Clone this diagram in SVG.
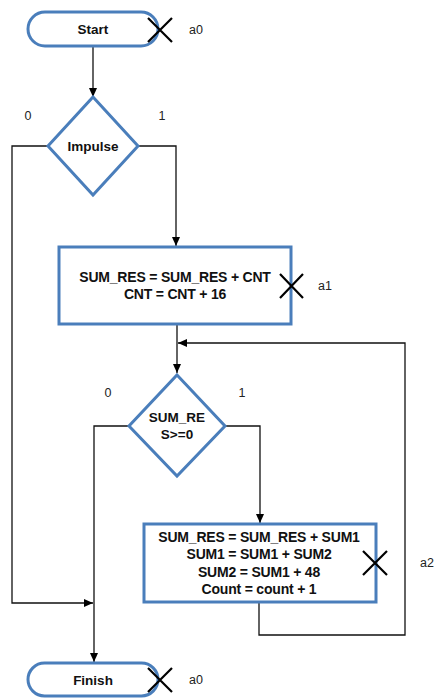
<svg xmlns="http://www.w3.org/2000/svg" width="436" height="698" viewBox="0 0 436 698">
<style>
.shape{fill:#fff;stroke:#4a7ebb;stroke-width:3}
.t{font-family:"Liberation Sans",Arial,sans-serif;font-size:13.5px;font-weight:bold;fill:#111;text-anchor:middle;dominant-baseline:central}
.b{font-size:14px;letter-spacing:-0.2px}
.l{font-family:"Liberation Sans",Arial,sans-serif;font-size:12.5px;fill:#222;text-anchor:middle;dominant-baseline:central}
.c{fill:none;stroke:#111;stroke-width:1.3}
.x{stroke:#000;stroke-width:2.2;fill:none}
</style>
<defs>
<marker id="ah" markerWidth="10" markerHeight="10" refX="9" refY="5" orient="auto" markerUnits="userSpaceOnUse">
<path d="M0,1 L9,5 L0,9 Z" fill="#000"/>
</marker>
</defs>
<g id="connectors">
<path class="c" d="M93,46 V97" marker-end="url(#ah)"/>
<path class="c" d="M138,146 H176 V246" marker-end="url(#ah)"/>
<path class="c" d="M48,146 H12 V603 H93" marker-end="url(#ah)"/>
<path class="c" d="M177,324 V373" marker-end="url(#ah)"/>
<path class="c" d="M225,426 H260 V523" marker-end="url(#ah)"/>
<path class="c" d="M129,426 H94 V662" marker-end="url(#ah)"/>
<path class="c" d="M259,602 V635 H405 V343 H178" marker-end="url(#ah)"/>
</g>
<g id="start">
<rect class="shape" x="28" y="12" width="130" height="34" rx="17"/>
<text class="t" x="93" y="29">Start</text>
<path class="x" d="M148,18 L172,42 M172,18 L148,42"/>
<text class="l" x="196" y="30">a0</text>
</g>
<g id="impulse">
<path class="shape" d="M93,97 L138,146 L93,195 L48,146 Z"/>
<text class="t" x="93" y="146">Impulse</text>
<text class="l" x="28" y="116">0</text>
<text class="l" x="162" y="116">1</text>
</g>
<g id="block1">
<rect class="shape" x="59" y="247" width="232" height="77"/>
<text class="t b" x="175" y="277">SUM_RES = SUM_RES + CNT</text>
<text class="t b" x="175" y="294">CNT = CNT + 16</text>
<path class="x" d="M280,274 L303,298 M303,274 L280,298"/>
<text class="l" x="325" y="286">a1</text>
</g>
<g id="cond2">
<path class="shape" d="M177,375 L225,426 L177,476 L129,426 Z"/>
<text class="t" x="177" y="417">SUM_RE</text>
<text class="t" x="177" y="434">S&gt;=0</text>
<text class="l" x="108" y="393">0</text>
<text class="l" x="242" y="393">1</text>
</g>
<g id="block2">
<rect class="shape" x="144" y="524" width="232" height="78"/>
<text class="t b" x="259" y="537">SUM_RES = SUM_RES + SUM1</text>
<text class="t b" x="259" y="554">SUM1 = SUM1  + SUM2</text>
<text class="t b" x="259" y="572">SUM2 = SUM1 + 48</text>
<text class="t b" x="259" y="589">Count = count + 1</text>
<path class="x" d="M363,551 L387,575 M387,551 L363,575"/>
<text class="l" x="427" y="563">a2</text>
</g>
<g id="finish">
<rect class="shape" x="28" y="663" width="130" height="33" rx="16.5"/>
<text class="t" x="93" y="680">Finish</text>
<path class="x" d="M148,668 L172,692 M172,668 L148,692"/>
<text class="l" x="196" y="680">a0</text>
</g>
</svg>
